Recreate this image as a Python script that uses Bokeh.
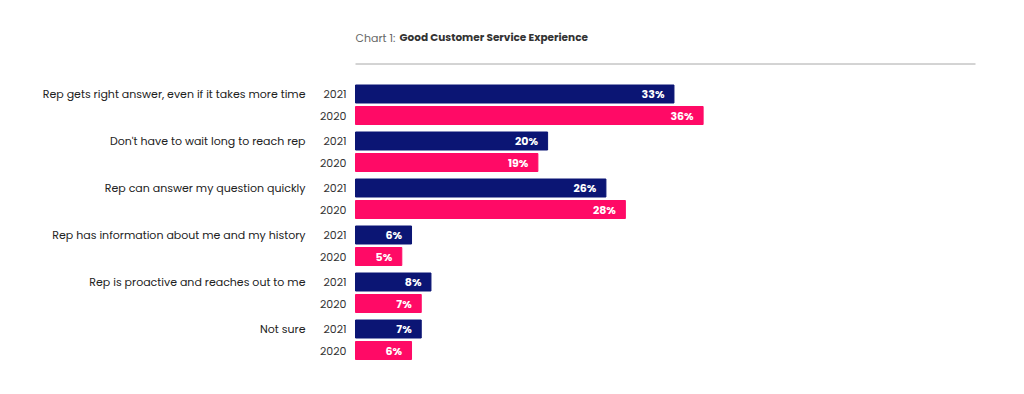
from bokeh.plotting import figure
from bokeh.models import Range1d, ColumnDataSource
from bokeh.core.properties import value
from bokeh.embed import file_html
from bokeh.resources import INLINE

categories = [
    "Rep gets right answer, even if it takes more time",
    "Don't have to wait long to reach rep",
    "Rep can answer my question quickly",
    "Rep has information about me and my history",
    "Rep is proactive and reaches out to me",
    "Not sure",
]
years = ["2021", "2020"]
values_2021 = [33, 20, 26, 6, 8, 7]
values_2020 = [36, 19, 28, 5, 7, 6]
colors = {"2021": "#0b1574", "2020": "#ff0a66"}
title_prefix = "Chart 1: "
title_main = "Good Customer Service Experience"

FONT = value("Poppins, Lato")

# layout (pixels)
W, H = 1008, 378
PX_PER_UNIT = 9.72
ORIGIN = 352.7  # page x of zero
BAR_LEFT_PX = 355
GROUP_TOP = 93.5
GROUP_STEP = 47
BAR_STEP = 21.5
BAR_H = 18
OFF = 0  # page offset of frame

x0 = (OFF - ORIGIN) / PX_PER_UNIT
x1 = (OFF + W - ORIGIN) / PX_PER_UNIT
px = lambda p: (p - ORIGIN) / PX_PER_UNIT  # page px -> data x

p = figure(width=W, height=H, output_backend="svg", toolbar_location=None,
           x_range=Range1d(x0, x1), y_range=Range1d(OFF + H, OFF),
           min_border=0, min_border_left=0, min_border_right=0,
           min_border_top=0, min_border_bottom=0)
p.axis.visible = False
p.grid.visible = False
p.outline_line_color = None
p.background_fill_color = "white"
p.border_fill_color = "white"

ys, vals, cols, yrs = [], [], [], []
for i, c in enumerate(categories):
    for j, (yr, vs) in enumerate(zip(years, [values_2021, values_2020])):
        ys.append(GROUP_TOP + i * GROUP_STEP + j * BAR_STEP)
        vals.append(vs[i])
        cols.append(colors[yr])
        yrs.append(yr)

src = ColumnDataSource(dict(y=ys, v=vals, c=cols, yr=yrs,
                            lbl=[f"{v}%" for v in vals],
                            yx=[px(346)] * len(ys)))
p.hbar(y="y", left=px(BAR_LEFT_PX), right="v", height=BAR_H, color="c",
       source=src)
p.text(x="v", y="y", text="lbl", source=src, text_color="white",
       text_font=FONT, text_font_style="bold",
       text_font_size="11px", text_align="right", text_baseline="middle",
       x_offset=-9.5)
p.text(x="yx", y="y", text="yr", source=src, text_color="#333333",
       text_font=FONT, text_font_size="11px",
       text_align="right", text_baseline="middle")

cat_src = ColumnDataSource(dict(
    x=[px(305)] * len(categories),
    y=[GROUP_TOP + i * GROUP_STEP for i in range(len(categories))],
    t=categories))
p.text(x="x", y="y", text="t", source=cat_src, text_color="#222222",
       text_font=FONT, text_font_size="11px",
       text_align="right", text_baseline="middle")

# title
p.text(x=[px(355)], y=[37], text=[title_prefix], text_color="#666666",
       text_font=FONT, text_font_size="11px",
       text_baseline="middle")
p.text(x=[px(399)], y=[37], text=[title_main], text_color="#333333",
       text_font=FONT, text_font_style="bold",
       text_font_size="10.5px", text_baseline="middle")
p.segment(x0=[px(355)], y0=[63.5], x1=[px(975)], y1=[63.5],
          line_color="#a8a8a8", line_width=1)

open("out.html", "w").write(file_html(p, INLINE))
